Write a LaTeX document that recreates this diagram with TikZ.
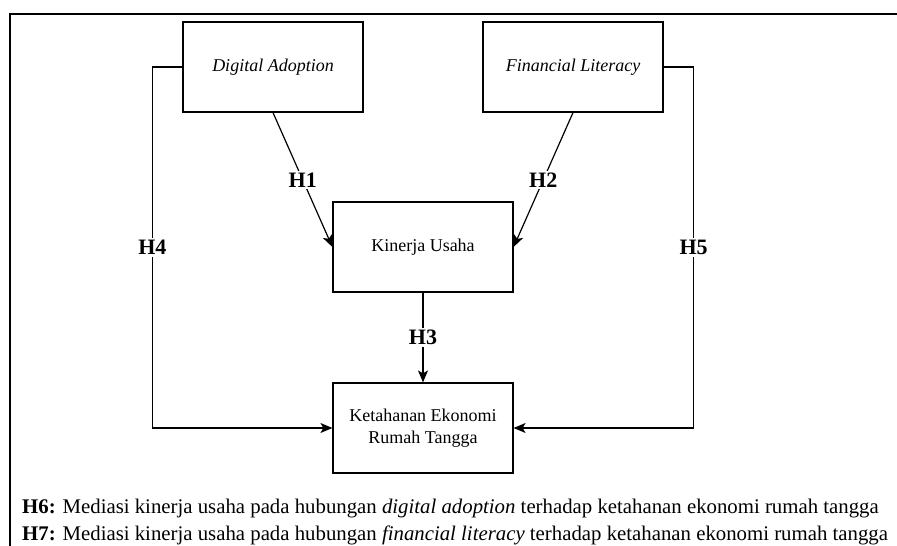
\documentclass[tikz,border=0pt]{standalone}
\usepackage{fontspec}
\setmainfont{Liberation Serif}
\usetikzlibrary{arrows.meta}
\begin{document}
\begin{tikzpicture}[x=1pt, y=-1pt, node distance=180pt,
  varbox/.style={draw, rectangle, line width=1.2pt, minimum width=180pt, minimum height=90pt, inner sep=0pt, align=center, font=\fontsize{18}{22}\selectfont},
  hyp/.style={fill=white, inner sep=2pt, font=\bfseries\fontsize{22}{26}\selectfont},
  link/.style={line width=1.2pt, -{Stealth[length=12pt, width=10pt, inset=3pt]}}]
\useasboundingbox (0,0) rectangle (897,546);
\draw[line width=2pt] (10,546) -- (10,14) -- (897,14);
\node (da) [varbox] at (273,67) {\itshape Digital Adoption};
\node (fl) [varbox, right of=da, xshift=120pt] {\itshape Financial Literacy};
\node (ku) [varbox, below of=da, xshift=150pt] {Kinerja Usaha};
\node (keh) [varbox, below of=ku, yshift=-1pt] {Ketahanan Ekonomi\\Rumah Tangga};
\draw[link] (da.south) -- node[hyp] {H1} (ku.west);
\draw[link] (fl.south) -- node[hyp] {H2} (ku.east);
\draw[link] (ku) -- node[hyp] {H3} (keh);
\draw[link] (da.west) -- ++(-30,0) |- node[hyp, pos=0.25] {H4} (keh.west);
\draw[link] (fl.east) -- ++(30,0) |- node[hyp, pos=0.25] {H5} (keh.east);
\node (h6) [anchor=base west, inner sep=0pt, font=\fontsize{20.8}{25}\selectfont] at (22,513) {\textbf{H6:} Mediasi kinerja usaha pada hubungan \textit{digital adoption} terhadap ketahanan ekonomi rumah tangga};
\node (h7) [anchor=base west, inner sep=0pt, font=\fontsize{20.8}{25}\selectfont] at (22,540) {\textbf{H7:} Mediasi kinerja usaha pada hubungan \textit{financial literacy} terhadap ketahanan ekonomi rumah tangga};
\end{tikzpicture}
\end{document}
